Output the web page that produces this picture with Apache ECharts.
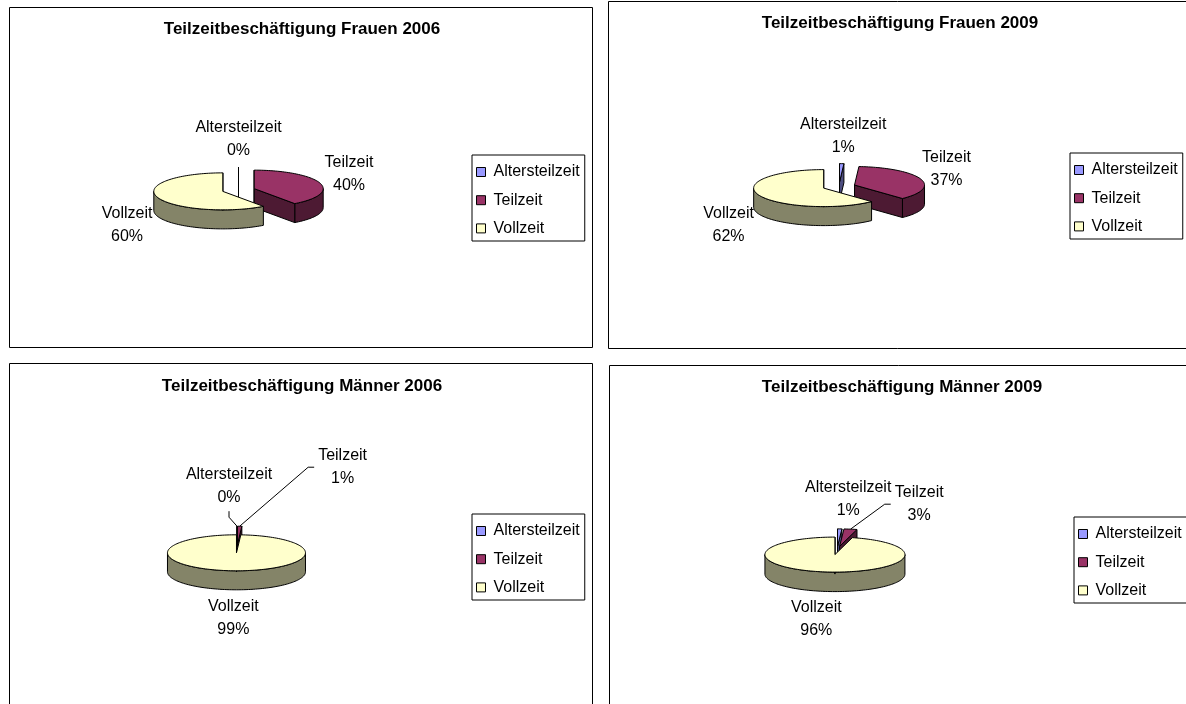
<!DOCTYPE html>
<html>
<head>
<meta charset="utf-8">
<title>Teilzeitbeschäftigung</title>
<script src="https://cdn.jsdelivr.net/npm/echarts@6/dist/echarts.min.js"></script>
<style>
html, body { margin: 0; padding: 0; background: #fff; }
#main { width: 1186px; height: 704px; }
</style>
</head>
<body>
<div id="main"></div>
<script>
// Daten (Prozent)
var categories = ['Altersteilzeit', 'Teilzeit', 'Vollzeit'];
var frauen2006 = [0, 40, 60];
var frauen2009 = [1, 37, 62];
var maenner2006 = [0, 1, 99];
var maenner2009 = [1, 3, 96];
var chartTitles = [
  'Teilzeitbeschäftigung Frauen 2006',
  'Teilzeitbeschäftigung Frauen 2009',
  'Teilzeitbeschäftigung Männer 2006',
  'Teilzeitbeschäftigung Männer 2009'
];

var topColors = ['#9999FF', '#993366', '#FFFFCC'];
var sideColors = ['#4D4D80', '#4D1A33', '#848468'];
var FONT = '"Liberation Sans", Arial, sans-serif';
var EXPLODE = 16.5;   // Abstand der Segmente
var GAP = 5;          // Abstand Beschriftung
var LINE = 23;        // Zeilenhöhe Beschriftung
var RAD = Math.PI / 180;

// Anordnung der vier Diagramme
var panels = [
  { values: frauen2006, box: [9, 7, 583, 340], title: [302, 29],
    center: [238.5, 190], rx: 69, ry: 18.5, depth: 19, legend: [472, 155],
    labelShift: [[0, 0], [0, 0], [0, 0]], leader: [false, false, false] },
  { values: frauen2009, box: [608, 1, 600, 347], title: [900, 23],
    center: [839, 186.5], rx: 70, ry: 18.5, depth: 19, legend: [1070, 153],
    labelShift: [[0, 0], [-3, 0], [0, 0]], leader: [false, false, false] },
  { values: maenner2006, box: [9, 363, 583, 360], title: [302, 386],
    center: [237, 548.5], rx: 69, ry: 18, depth: 19, legend: [472, 514],
    labelShift: [[-8, -12], [102, -31], [0, 0]], leader: [true, true, false] },
  { values: maenner2009, box: [609, 365, 600, 360], title: [902, 387],
    center: [837, 550.5], rx: 70, ry: 17.5, depth: 19.5, legend: [1074, 517],
    labelShift: [[7, -2], [64, 3], [-6, 0]], leader: [false, true, false] }
];

var measureCtx = document.createElement('canvas').getContext('2d');
function textWidth(str) {
  measureCtx.font = '16px ' + FONT;
  return measureCtx.measureText(str).width;
}

function sum(arr) {
  var s = 0;
  for (var i = 0; i < arr.length; i++) s += arr[i];
  return s;
}

function arc(c, rx, ry, a0, a1, dy) {
  var pts = [];
  var n = Math.max(1, Math.ceil((a1 - a0) / 2));
  for (var j = 0; j <= n; j++) {
    var a = (a0 + (a1 - a0) * j / n) * RAD;
    pts.push([c[0] + rx * Math.sin(a), c[1] - ry * Math.cos(a) + dy]);
  }
  return pts;
}

function poly(points, fill) {
  return {
    type: 'polygon',
    shape: { points: points },
    style: { fill: fill, stroke: '#000', lineWidth: 1, lineJoin: 'round' }
  };
}

function drawSlice(p, ci, v) {
  var total = sum(p.values);
  var before = sum(p.values.slice(0, ci));
  var a0 = before / total * 360;
  var a1 = (before + v) / total * 360;
  var mid = (a0 + a1) / 2 * RAD;
  var rx = p.rx, ry = p.ry, h = p.depth;
  var k = ry / rx;
  var c = [p.center[0] + EXPLODE * Math.sin(mid), p.center[1] - EXPLODE * k * Math.cos(mid)];
  var children = [];

  // Außenwand (nur vordere Hälfte sichtbar)
  var s = Math.max(a0, 90), e = Math.min(a1, 270);
  if (e > s) {
    var up = arc(c, rx, ry, s, e, 0);
    var down = arc(c, rx, ry, s, e, h).reverse();
    children.push(poly(up.concat(down), sideColors[ci]));
  }
  // Schnittflächen
  function wall(a) {
    var pt = [c[0] + rx * Math.sin(a * RAD), c[1] - ry * Math.cos(a * RAD)];
    return [c, pt, [pt[0], pt[1] + h], [c[0], c[1] + h]];
  }
  if (Math.sin(a0 * RAD) <= 1e-6) children.push(poly(wall(a0), sideColors[ci]));
  if (a1 > a0 && Math.sin(a1 * RAD) >= -1e-6) children.push(poly(wall(a1), sideColors[ci]));
  // Oberseite
  children.push(poly([c].concat(arc(c, rx, ry, a0, a1, 0)), topColors[ci]));

  // Beschriftung
  var name = categories[ci];
  var pct = Math.round(v / total * 100) + '%';
  var dir = [Math.sin(mid), -Math.cos(mid)];
  var tip = [c[0] + rx * dir[0], c[1] + ry * dir[1]];
  var anchor = [tip[0], tip[1] + (dir[1] > 0 ? h : 0)];
  var m = Math.max(Math.abs(dir[0]), Math.abs(dir[1]));
  var w = Math.max(textWidth(name), textWidth(pct));
  var hh = 2 * LINE;
  var lx = anchor[0] + GAP * dir[0] + w / 2 * dir[0] / m + p.labelShift[ci][0];
  var ly = anchor[1] + GAP * dir[1] + hh / 2 * dir[1] / m + p.labelShift[ci][1];

  if (p.leader[ci]) {
    var pts;
    if (Math.abs(tip[0] - lx) > w / 2) {
      var sx = tip[0] < lx ? -1 : 1;
      var x0 = lx + sx * (w / 2 + 4);
      pts = [[x0, ly], [x0 + sx * 6, ly], tip];
    } else {
      var sy = tip[1] < ly ? -1 : 1;
      var y0 = ly + sy * (hh / 2 + 2);
      pts = [[lx, y0], [lx, y0 + sy * 6], tip];
    }
    children.push({
      type: 'polyline',
      shape: { points: pts },
      style: { stroke: '#000', lineWidth: 1, fill: null }
    });
  }
  children.push({
    type: 'text',
    x: lx,
    y: ly,
    style: {
      text: name + '\n' + pct,
      fill: '#000',
      font: '16px ' + FONT,
      align: 'center',
      verticalAlign: 'middle',
      lineHeight: LINE,
      legacy: false
    }
  });
  return { type: 'group', children: children };
}

var series = [];
var graphics = [];
var legends = [];

panels.forEach(function (p, pi) {
  graphics.push({
    type: 'rect',
    silent: true,
    shape: { x: p.box[0] + 0.5, y: p.box[1] + 0.5, width: p.box[2], height: p.box[3] },
    style: { fill: null, stroke: '#000', lineWidth: 1 }
  });
  graphics.push({
    type: 'text',
    silent: true,
    x: p.title[0],
    y: p.title[1],
    style: {
      text: chartTitles[pi],
      fill: '#000',
      font: 'bold 17px ' + FONT,
      align: 'center',
      verticalAlign: 'middle',
      legacy: false
    }
  });
  legends.push({
    data: categories,
    orient: 'vertical',
    left: p.legend[0],
    top: p.legend[1],
    icon: 'rect',
    itemWidth: 9,
    itemHeight: 9,
    itemGap: 12.2,
    padding: [9, 5, 4.6, 4],
    borderColor: '#000',
    borderWidth: 1,
    backgroundColor: '#fff',
    selectedMode: false,
    itemStyle: { borderColor: '#000', borderWidth: 1 },
    textStyle: { fontSize: 16, fontFamily: FONT, color: '#000', padding: [0, 0, 0, 3] }
  });
  categories.forEach(function (name, ci) {
    series.push({
      type: 'custom',
      name: name,
      coordinateSystem: 'none',
      silent: true,
      animation: false,
      itemStyle: { color: topColors[ci] },
      data: [p.values[ci]],
      renderItem: function (params, api) {
        return drawSlice(p, ci, api.value(0));
      }
    });
  });
});

var chart = echarts.init(document.getElementById('main'), null, { renderer: 'canvas' });
chart.setOption({
  backgroundColor: '#fff',
  animation: false,
  graphic: { elements: graphics },
  legend: legends,
  series: series
});
window.addEventListener('resize', chart.resize);
</script>
</body>
</html>
